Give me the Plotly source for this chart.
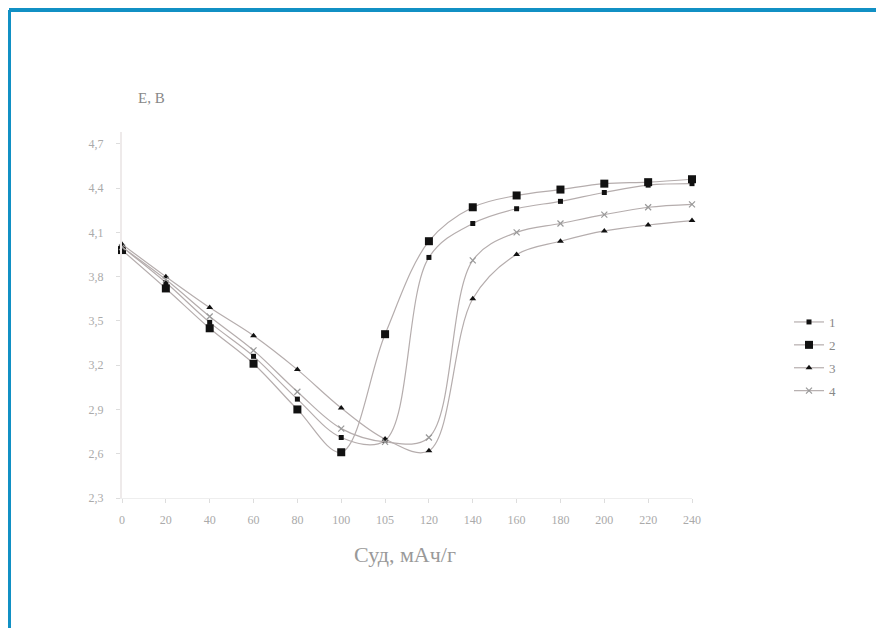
import plotly.graph_objects as go

categories = ["0", "20", "40", "60", "80", "100", "105", "120", "140", "160", "180", "200", "220", "240"]
series_names = ["1", "2", "3", "4"]
s1 = [4.00, 3.76, 3.49, 3.26, 2.97, 2.71, 2.69, 3.93, 4.16, 4.26, 4.31, 4.37, 4.42, 4.43]
s2 = [3.98, 3.72, 3.45, 3.21, 2.90, 2.61, 3.41, 4.04, 4.27, 4.35, 4.39, 4.43, 4.44, 4.46]
s3 = [4.02, 3.80, 3.59, 3.40, 3.17, 2.91, 2.70, 2.62, 3.65, 3.95, 4.04, 4.11, 4.15, 4.18]
s4 = [4.00, 3.78, 3.53, 3.30, 3.02, 2.77, 2.68, 2.71, 3.91, 4.10, 4.16, 4.22, 4.27, 4.29]
y_ticks = [2.3, 2.6, 2.9, 3.2, 3.5, 3.8, 4.1, 4.4, 4.7]

xs = list(range(len(categories)))
line_col = "#b5adad"
styles = [
    dict(symbol="square", size=5, color="#111111"),
    dict(symbol="square", size=8, color="#111111"),
    dict(symbol="triangle-up", size=6, color="#111111"),
    dict(symbol="x-thin", size=6, color="#999999", line=dict(width=1.2, color="#999999")),
]

fig = go.Figure()
for name, vals, st in zip(series_names, [s1, s2, s3, s4], styles):
    fig.add_trace(go.Scatter(
        x=xs, y=vals, name=name, mode="lines+markers", legendgroup=name,
        line=dict(color=line_col, width=1.2, shape="spline", smoothing=1.0),
        marker=st, cliponaxis=False,
    ))

OFF = 7
W, H = 876, 620
L, T = 114, 124
pw, ph = 570, 366
R, B = W - L - pw, H - T - ph

def px(x):
    return (x - OFF - L) / pw

def py(y):
    return (T + ph - (y - OFF)) / ph

fig.update_layout(
    width=W, height=H,
    margin=dict(l=L, r=R, t=T, b=B),
    paper_bgcolor="white", plot_bgcolor="white",
    separators=", ",
    font=dict(family="Liberation Serif", color="#999999", size=11),
    showlegend=True,
    legend=dict(x=px(788), y=py(306), xanchor="left", yanchor="top",
                font=dict(size=13, color="#888888"), tracegroupgap=3,
                itemwidth=30, bgcolor="rgba(0,0,0,0)"),
    xaxis=dict(range=[0, 13], tickmode="array", tickvals=xs, ticktext=categories,
               showgrid=False, zeroline=False, showline=True, linecolor="#eeeeee",
               ticks="outside", ticklen=4, tickcolor="#dddddd",
               ticklabelstandoff=7,
               tickfont=dict(size=12, color="#aaaaaa")),
    yaxis=dict(range=[2.3, 4.78], tickmode="array", tickvals=y_ticks,
               ticktext=[f"{v:.1f}".replace(".", ",") for v in y_ticks],
               showgrid=False, zeroline=False, showline=True, linecolor="#eeeaea",
               linewidth=2, ticks="outside", ticklen=4, tickcolor="#dddddd",
               ticklabelstandoff=10,
               tickfont=dict(size=12, color="#aaaaaa")),
    annotations=[
        dict(text="E, B", xref="paper", yref="paper", x=px(150), y=py(97),
             xanchor="center", yanchor="middle",
             showarrow=False, font=dict(size=15, color="#888888")),
        dict(text="Суд, мАч/г", xref="paper", yref="paper", x=px(404), y=py(553),
             xanchor="center", yanchor="middle",
             showarrow=False, font=dict(size=22, color="#999999")),
    ],
    shapes=[
        dict(type="line", xref="paper", yref="paper", x0=px(8), x1=px(900),
             y0=py(9), y1=py(9), line=dict(color="#1190c4", width=4)),
        dict(type="line", xref="paper", yref="paper", x0=px(8), x1=px(8),
             y0=py(9), y1=py(640), line=dict(color="#1190c4", width=4)),
    ],
)

fig.write_html("out.html")
